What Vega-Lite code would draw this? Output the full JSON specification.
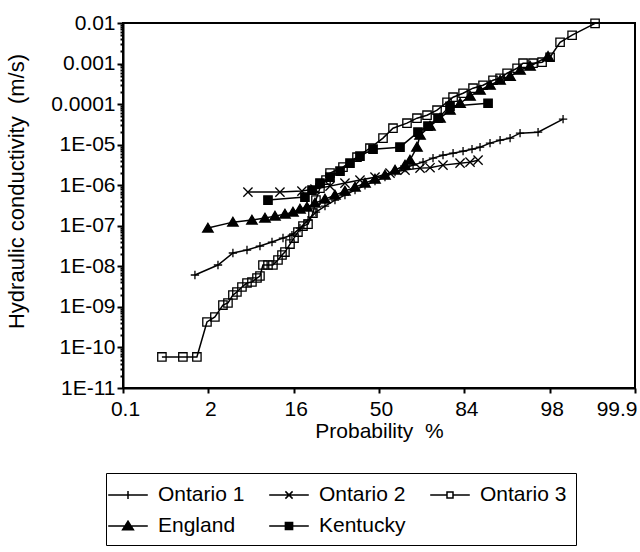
{
"$schema": "https://vega.github.io/schema/vega-lite/v6.json",
"width": 512, "height": 365,
"autosize": {"type": "none"},
"padding": {"left": 123, "top": 23, "right": 5, "bottom": 164},
"background": "white",
"config": {
  "font": "Liberation Sans",
  "view": {"stroke": "black", "strokeWidth": 2},
  "axis": {"domainColor": "black", "domainWidth": 2, "tickColor": "black", "labelColor": "black", "titleColor": "black", "labelFontSize": 21, "titleFontSize": 21, "titleFontWeight": "normal", "grid": false, "labelFont": "Liberation Sans", "titleFont": "Liberation Sans"}
},
"data": {"values": [
{"s":"Ontario 1","z":-2.157,"k":6.11e-9},
{"s":"Ontario 1","z":-1.887,"k":1.08e-8},
{"s":"Ontario 1","z":-1.712,"k":2.13e-8},
{"s":"Ontario 1","z":-1.547,"k":2.52e-8},
{"s":"Ontario 1","z":-1.395,"k":3.16e-8},
{"s":"Ontario 1","z":-1.254,"k":3.97e-8},
{"s":"Ontario 1","z":-1.125,"k":4.98e-8},
{"s":"Ontario 1","z":-1.020,"k":5.90e-8},
{"s":"Ontario 1","z":-0.926,"k":8.77e-8},
{"s":"Ontario 1","z":-0.832,"k":1.38e-7},
{"s":"Ontario 1","z":-0.739,"k":2.17e-7},
{"s":"Ontario 1","z":-0.633,"k":3.05e-7},
{"s":"Ontario 1","z":-0.516,"k":4.30e-7},
{"s":"Ontario 1","z":-0.399,"k":5.70e-7},
{"s":"Ontario 1","z":-0.281,"k":7.57e-7},
{"s":"Ontario 1","z":-0.164,"k":1.00e-6},
{"s":"Ontario 1","z":-0.047,"k":1.26e-6},
{"s":"Ontario 1","z":0.070,"k":1.58e-6},
{"s":"Ontario 1","z":0.188,"k":2.10e-6},
{"s":"Ontario 1","z":0.305,"k":2.64e-6},
{"s":"Ontario 1","z":0.399,"k":3.13e-6},
{"s":"Ontario 1","z":0.516,"k":3.71e-6},
{"s":"Ontario 1","z":0.633,"k":4.65e-6},
{"s":"Ontario 1","z":0.750,"k":5.51e-6},
{"s":"Ontario 1","z":0.868,"k":6.18e-6},
{"s":"Ontario 1","z":0.985,"k":6.92e-6},
{"s":"Ontario 1","z":1.090,"k":7.74e-6},
{"s":"Ontario 1","z":1.184,"k":8.67e-6},
{"s":"Ontario 1","z":1.301,"k":1.09e-5},
{"s":"Ontario 1","z":1.419,"k":1.29e-5},
{"s":"Ontario 1","z":1.536,"k":1.45e-5},
{"s":"Ontario 1","z":1.653,"k":1.92e-5},
{"s":"Ontario 1","z":1.864,"k":2.03e-5},
{"s":"Ontario 1","z":2.157,"k":4.25e-5},
{"s":"Ontario 2","z":-1.536,"k":6.76e-7},
{"s":"Ontario 2","z":-1.161,"k":6.76e-7},
{"s":"Ontario 2","z":-0.903,"k":7.16e-7},
{"s":"Ontario 2","z":-0.750,"k":8.02e-7},
{"s":"Ontario 2","z":-0.574,"k":9.5e-7},
{"s":"Ontario 2","z":-0.399,"k":1.13e-6},
{"s":"Ontario 2","z":-0.223,"k":1.34e-6},
{"s":"Ontario 2","z":-0.047,"k":1.58e-6},
{"s":"Ontario 2","z":0.129,"k":1.99e-6},
{"s":"Ontario 2","z":0.305,"k":2.36e-6},
{"s":"Ontario 2","z":0.481,"k":2.64e-6},
{"s":"Ontario 2","z":0.598,"k":2.70e-6},
{"s":"Ontario 2","z":0.750,"k":3.13e-6},
{"s":"Ontario 2","z":0.950,"k":3.50e-6},
{"s":"Ontario 2","z":1.067,"k":3.71e-6},
{"s":"Ontario 2","z":1.161,"k":4.15e-6},
{"s":"Ontario 3","z":-2.544,"k":5.83e-11},
{"s":"Ontario 3","z":-2.298,"k":5.83e-11},
{"s":"Ontario 3","z":-2.134,"k":5.83e-11},
{"s":"Ontario 3","z":-2.016,"k":4.25e-10},
{"s":"Ontario 3","z":-1.923,"k":5.64e-10},
{"s":"Ontario 3","z":-1.829,"k":1.11e-9},
{"s":"Ontario 3","z":-1.770,"k":1.25e-9},
{"s":"Ontario 3","z":-1.712,"k":1.96e-9},
{"s":"Ontario 3","z":-1.665,"k":2.33e-9},
{"s":"Ontario 3","z":-1.606,"k":3.09e-9},
{"s":"Ontario 3","z":-1.547,"k":3.88e-9},
{"s":"Ontario 3","z":-1.489,"k":4.10e-9},
{"s":"Ontario 3","z":-1.430,"k":5.15e-9},
{"s":"Ontario 3","z":-1.395,"k":5.77e-9},
{"s":"Ontario 3","z":-1.360,"k":1.08e-8},
{"s":"Ontario 3","z":-1.301,"k":1.08e-8},
{"s":"Ontario 3","z":-1.243,"k":1.08e-8},
{"s":"Ontario 3","z":-1.184,"k":1.43e-8},
{"s":"Ontario 3","z":-1.137,"k":1.90e-8},
{"s":"Ontario 3","z":-1.102,"k":2.25e-8},
{"s":"Ontario 3","z":-1.043,"k":3.54e-8},
{"s":"Ontario 3","z":-0.996,"k":4.98e-8},
{"s":"Ontario 3","z":-0.950,"k":7.00e-8},
{"s":"Ontario 3","z":-0.891,"k":9.84e-8},
{"s":"Ontario 3","z":-0.832,"k":1.10e-7},
{"s":"Ontario 3","z":-0.774,"k":2.06e-7},
{"s":"Ontario 3","z":-0.739,"k":4.30e-7},
{"s":"Ontario 3","z":-0.692,"k":8.49e-7},
{"s":"Ontario 3","z":-0.621,"k":1.34e-6},
{"s":"Ontario 3","z":-0.574,"k":1.99e-6},
{"s":"Ontario 3","z":-0.422,"k":2.79e-6},
{"s":"Ontario 3","z":-0.258,"k":4.92e-6},
{"s":"Ontario 3","z":-0.106,"k":8.20e-6},
{"s":"Ontario 3","z":0.047,"k":1.45e-5},
{"s":"Ontario 3","z":0.164,"k":2.55e-5},
{"s":"Ontario 3","z":0.328,"k":3.39e-5},
{"s":"Ontario 3","z":0.445,"k":4.50e-5},
{"s":"Ontario 3","z":0.563,"k":5.33e-5},
{"s":"Ontario 3","z":0.680,"k":7.08e-5},
{"s":"Ontario 3","z":0.797,"k":1.11e-4},
{"s":"Ontario 3","z":0.868,"k":1.48e-4},
{"s":"Ontario 3","z":0.985,"k":1.85e-4},
{"s":"Ontario 3","z":1.102,"k":2.47e-4},
{"s":"Ontario 3","z":1.219,"k":2.92e-4},
{"s":"Ontario 3","z":1.336,"k":3.88e-4},
{"s":"Ontario 3","z":1.419,"k":4.35e-4},
{"s":"Ontario 3","z":1.501,"k":5.77e-4},
{"s":"Ontario 3","z":1.618,"k":7.66e-4},
{"s":"Ontario 3","z":1.688,"k":1.02e-3},
{"s":"Ontario 3","z":1.805,"k":1.02e-3},
{"s":"Ontario 3","z":1.911,"k":1.08e-3},
{"s":"Ontario 3","z":2.005,"k":1.43e-3},
{"s":"Ontario 3","z":2.122,"k":3.35e-3},
{"s":"Ontario 3","z":2.263,"k":5.0e-3},
{"s":"Ontario 3","z":2.532,"k":9.8e-3},
{"s":"England","z":-2.005,"k":8.77e-8},
{"s":"England","z":-1.712,"k":1.23e-7},
{"s":"England","z":-1.489,"k":1.38e-7},
{"s":"England","z":-1.336,"k":1.55e-7},
{"s":"England","z":-1.219,"k":1.73e-7},
{"s":"England","z":-1.102,"k":1.94e-7},
{"s":"England","z":-1.008,"k":2.17e-7},
{"s":"England","z":-0.926,"k":2.58e-7},
{"s":"England","z":-0.844,"k":2.89e-7},
{"s":"England","z":-0.750,"k":3.62e-7},
{"s":"England","z":-0.633,"k":4.55e-7},
{"s":"England","z":-0.516,"k":5.70e-7},
{"s":"England","z":-0.399,"k":7.16e-7},
{"s":"England","z":-0.281,"k":8.97e-7},
{"s":"England","z":-0.164,"k":1.13e-6},
{"s":"England","z":-0.047,"k":1.41e-6},
{"s":"England","z":0.070,"k":1.77e-6},
{"s":"England","z":0.188,"k":2.36e-6},
{"s":"England","z":0.305,"k":3.13e-6},
{"s":"England","z":0.363,"k":4.15e-6},
{"s":"England","z":0.445,"k":8.67e-6},
{"s":"England","z":0.481,"k":1.71e-5},
{"s":"England","z":0.598,"k":2.86e-5},
{"s":"England","z":0.715,"k":4.50e-5},
{"s":"England","z":0.832,"k":7.08e-5},
{"s":"England","z":0.950,"k":1.05e-4},
{"s":"England","z":1.067,"k":1.57e-4},
{"s":"England","z":1.184,"k":2.20e-4},
{"s":"England","z":1.301,"k":2.92e-4},
{"s":"England","z":1.419,"k":3.88e-4},
{"s":"England","z":1.536,"k":4.86e-4},
{"s":"England","z":1.653,"k":6.84e-4},
{"s":"England","z":1.770,"k":8.6e-4},
{"s":"England","z":1.981,"k":1.51e-3},
{"s":"Kentucky","z":-1.301,"k":4.30e-7},
{"s":"Kentucky","z":-0.868,"k":5.09e-7},
{"s":"Kentucky","z":-0.785,"k":7.57e-7},
{"s":"Kentucky","z":-0.692,"k":1.13e-6},
{"s":"Kentucky","z":-0.574,"k":1.58e-6},
{"s":"Kentucky","z":-0.457,"k":2.22e-6},
{"s":"Kentucky","z":-0.340,"k":3.50e-6},
{"s":"Kentucky","z":-0.223,"k":5.21e-6},
{"s":"Kentucky","z":-0.070,"k":7.74e-6},
{"s":"Kentucky","z":0.246,"k":8.67e-6},
{"s":"Kentucky","z":0.457,"k":2.03e-5},
{"s":"Kentucky","z":0.574,"k":2.86e-5},
{"s":"Kentucky","z":0.692,"k":4.50e-5},
{"s":"Kentucky","z":0.832,"k":8.87e-5},
{"s":"Kentucky","z":1.278,"k":1.05e-4}
]},
"encoding": {
  "x": {"field": "z", "type": "quantitative",
    "scale": {"domain": [-3, 3], "nice": false, "zero": false},
    "axis": {"title": "Probability\u00a0 %", "values": [-3, -2, -1, 0, 1, 2, 3],
      "labelExpr": "datum.value == -3 ? '0.1' : datum.value == -2 ? '2' : datum.value == -1 ? '16' : datum.value == 0 ? '50' : datum.value == 1 ? '84' : datum.value == 2 ? '98' : '99.9'",
      "labelAlign": {"condition": {"test": "datum.value == 3", "value": "right"}, "value": "center"},
      "labelOffset": {"condition": {"test": "datum.value == 3", "value": 2}, "value": 2},
      "tickSize": 5, "tickWidth": 2, "labelPadding": 5, "titlePadding": 1, "labelFlush": false, "labelOverlap": false}},
  "y": {"field": "k", "type": "quantitative",
    "scale": {"type": "log", "domain": [1e-11, 0.01], "nice": false},
    "axis": {"title": "Hydraulic conductivity\u00a0 (m/s)", "titleFontSize": 22,
      "values": [1e-11,2e-11,3e-11,4e-11,5e-11,6e-11,7e-11,8e-11,9e-11,1e-10,2e-10,3e-10,4e-10,5e-10,6e-10,7e-10,8e-10,9e-10,1e-9,2e-9,3e-9,4e-9,5e-9,6e-9,7e-9,8e-9,9e-9,1e-8,2e-8,3e-8,4e-8,5e-8,6e-8,7e-8,8e-8,9e-8,1e-7,2e-7,3e-7,4e-7,5e-7,6e-7,7e-7,8e-7,9e-7,1e-6,2e-6,3e-6,4e-6,5e-6,6e-6,7e-6,8e-6,9e-6,1e-5,2e-5,3e-5,4e-5,5e-5,6e-5,7e-5,8e-5,9e-5,1e-4,2e-4,3e-4,4e-4,5e-4,6e-4,7e-4,8e-4,9e-4,1e-3,2e-3,3e-3,4e-3,5e-3,6e-3,7e-3,8e-3,9e-3,1e-2],
      "labelExpr": "abs(log(datum.value)/LN10 - round(log(datum.value)/LN10)) > 0.01 ? '' : (datum.value >= 0.0001 ? format(datum.value, '~g') : '1E-' + pad(toString(-round(log(datum.value)/LN10)), 2, '0', 'left'))",
      "tickSize": {"condition": {"test": "abs(log(datum.value)/LN10 - round(log(datum.value)/LN10)) < 0.01", "value": 6}, "value": 3},
      "tickWidth": 2, "labelPadding": 2, "labelOverlap": false, "labelFlush": false, "titlePadding": 22, "titleY": 168}}
},
"layer": [
  {"mark": {"type": "line", "color": "black", "strokeWidth": 1.5},
   "encoding": {"detail": {"field": "s"}, "order": {"field": "z"}}},
  {"mark": {"type": "point", "filled": false, "strokeWidth": 1.3, "size": 70, "opacity": 1},
   "encoding": {
     "shape": {"field": "s", "type": "nominal",
       "scale": {"domain": ["Ontario 1", "Ontario 2", "Ontario 3", "England", "Kentucky"],
                 "range": ["M0,-1V1M-1,0H1", "M-1.1,-1.1L1.1,1.1M-1.1,1.1L1.1,-1.1", "M-1,-1H1V1H-1Z", "M0,-1.15L1.25,0.95H-1.25Z", "M-1,-1H1V1H-1Z"]},
       "legend": null},
     "fill": {"condition": {"test": "datum.s === 'England' || datum.s === 'Kentucky'", "value": "black"}, "value": "transparent"},
     "stroke": {"value": "black"}
   }},
  {"mark": {"type": "point", "filled": false, "opacity": 0, "size": 576},
   "encoding": {
     "shape": {"field": "s", "type": "nominal",
       "scale": {"domain": ["Ontario 1", "Ontario 2", "Ontario 3", "England", "Kentucky"],
                 "range": [
                   "M-1.65,0H1.65M0,-0.33V0.33",
                   "M-1.65,0H1.65M-0.3,-0.3L0.3,0.3M-0.3,0.3L0.3,-0.3",
                   "M-1.65,0H-0.25M0.25,0H1.65M-0.25,-0.25H0.25V0.25H-0.25Z",
                   "M-1.65,0H1.65M0,-0.4L0.45,0.32H-0.45ZM-0.06,-0.3H0.06M-0.12,-0.2H0.12M-0.19,-0.1H0.19M-0.25,0H0.25M-0.31,0.1H0.31M-0.37,0.2H0.37M-0.43,0.3H0.43",
                   "M-1.65,0H1.65M-0.3,-0.3H0.3V0.3H-0.3ZM-0.3,-0.2H0.3M-0.3,-0.1H0.3M-0.3,0.1H0.3M-0.3,0.2H0.3"]},
       "legend": {"title": null, "orient": "none", "legendX": -17, "legendY": 450, "columns": 3, "direction": "horizontal",
         "strokeColor": "black", "padding": 9, "cornerRadius": 0,
         "symbolSize": 576, "symbolOpacity": 1, "symbolFillColor": "transparent", "symbolStrokeColor": "black", "symbolStrokeWidth": 1.5,
         "symbolOffset": 0, "labelOffset": 17, "columnPadding": 21, "rowPadding": 8,
         "labelFontSize": 21, "labelFont": "Liberation Sans", "labelColor": "black"}},
     "stroke": {"value": "black"}
   }}
],
"resolve": {"scale": {"shape": "independent"}, "legend": {"shape": "independent"}}
}
